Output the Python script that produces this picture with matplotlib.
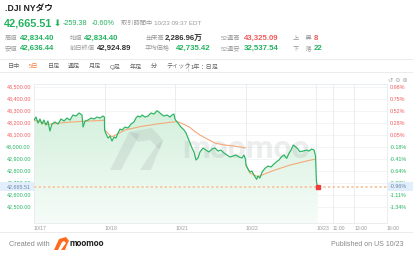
import matplotlib
matplotlib.use("Agg")
import matplotlib.pyplot as plt
import numpy as np
from matplotlib.colors import LinearSegmentedColormap
from matplotlib.patches import Polygon, Rectangle
from matplotlib.lines import Line2D

plt.rcParams['font.family'] = ['Liberation Sans', 'Noto Sans CJK JP', 'DejaVu Sans']

W, H = 414, 256
GREEN = '#22b35e'
RED = '#f05a5a'
GRAY = '#9a9a9a'
DARK = '#333333'

# ---- data (minutes since 10/17 09:30, 390 per session) ----
x_ticks = [0, 390, 780, 1170, 1560, 1650, 1770, 1950]
x_labels = ["10/17", "10/18", "10/21", "10/22", "10/23", "11:00", "13:00", "16:00"]

y_ticks = [42500, 42600, 42700, 42800, 42900, 43000, 43100, 43200, 43300, 43400, 43500]
y_left = ["42,500.00", "42,600.00", "42,700.00", "42,800.00", "42,900.00", "43,000.00",
          "43,100.00", "43,200.00", "43,300.00", "43,400.00", "43,500.00"]
y_right = ["-1.34%", "-1.11%", "-0.88%", "-0.64%", "-0.41%", "-0.18%",
           "0.05%", "0.28%", "0.52%", "0.75%", "0.98%"]
base = 43079

t = [0, 11, 22, 33, 44, 55, 66, 77, 88, 99, 116, 133, 149, 166, 182, 199, 215, 232, 249, 265,
     271, 282, 298, 315, 331, 348, 365, 381, 389,
     390, 398, 409, 420, 431, 442, 453, 464, 475, 486, 503, 519, 536, 552, 563, 574, 586, 597,
     613, 630, 646, 663, 679, 690, 702, 718, 735, 751, 762, 773, 779,
     782, 795, 812, 829, 840, 851, 862, 873, 884, 895, 906, 917, 934, 950, 967, 983, 1000,
     1016, 1033, 1050, 1066, 1083, 1099, 1116, 1133, 1149, 1160, 1168,
     1171, 1182, 1193, 1204, 1215, 1230, 1237, 1248, 1260, 1276, 1293, 1309, 1320, 1337, 1353,
     1368, 1381, 1396, 1409, 1420, 1432, 1447, 1458, 1469, 1486, 1506, 1519, 1534, 1547, 1555,
     1560, 1563, 1567]
price = [43222, 43247, 43197, 43231, 43189, 43222, 43181, 43214, 43131, 43189, 43206, 43189,
         43231, 43214, 43239, 43222, 43264, 43256, 43281, 43264, 43164, 43214, 43222, 43239,
         43231, 43247, 43239, 43256, 43247,
         43139, 43106, 43072, 43089, 43047, 43081, 43072, 43114, 43147, 43139, 43164, 43156,
         43189, 43206, 43239, 43256, 43247, 43264, 43247, 43256, 43281, 43272, 43300, 43289,
         43272, 43256, 43264, 43247, 43264, 43272, 43231,
         43222, 43197, 43164, 43139, 43114, 43072, 43031, 42989, 42956, 42889, 42906, 42956,
         42989, 42972, 42956, 42981, 42989, 42964, 42972, 42947, 42931, 42914, 42922, 42931,
         42914, 42906, 42931, 42897,
         42847, 42814, 42789, 42797, 42764, 42728, 42756, 42739, 42789, 42820, 42839, 42831,
         42847, 42872, 42889, 42917, 42931, 42903, 42947, 42972, 43014, 42997, 42981, 42958,
         42964, 42972, 42964, 42981, 42972, 42925,
         42714, 42689, 42665.51]
last = 42665.51

ma_t = [[0, 30, 70, 130, 200, 280, 389],
        [390, 420, 431, 503, 586, 668, 751, 779],
        [782, 830, 862, 890, 917, 950, 1000, 1050, 1110, 1168],
        [1171, 1193, 1237, 1320, 1414, 1506, 1555]]
ma_v = [[43222, 43210, 43185, 43195, 43205, 43212, 43220],
        [43139, 43095, 43083, 43139, 43167, 43187, 43203, 43206],
        [43215, 43185, 43160, 43125, 43097, 43070, 43030, 43015, 43005, 42990],
        [42847, 42780, 42750, 42800, 42847, 42881, 42897]]

row1 = [("高値", "42,834.40", GREEN), ("始値", "42,834.40", GREEN), ("出来高", "2,286.96万", DARK),
        ("52週高", "43,325.09", RED), ("上　昇", "8", RED)]
row2 = [("安値", "42,636.44", GREEN), ("前日終値", "42,924.89", DARK), ("平均価格", "42,735.42", GREEN),
        ("52週安", "32,537.54", GREEN), ("下　落", "22", GREEN)]
tabs = ["日中", "5日", "日足", "週足", "月足", "Q足", "年足", "分", "ティック"]
tab_x = [8, 29, 48, 68, 89, 110, 130, 151, 166]


def P(x, y):
    return x / W, 1 - y / H


def D(x, y):
    # chart pixel -> data coords
    return (x - 34) / 353 * 1950, 43500 - (y - 86.7) / 0.12


fig = plt.figure(figsize=(W / 100, H / 100), dpi=100)
fig.patch.set_facecolor('white')

# ---- header ----
fig.text(*P(5, 9), ".DJI NYダウ", fontsize=6.2, fontweight='bold', color='#222222', va='center')
fig.text(*P(4, 23.5), "42,665.51", fontsize=7.8, fontweight='bold', color=GREEN, va='center')
fig.text(*P(53.5, 23.5), "⬇", fontsize=6.2, color=GREEN, va='center', family='DejaVu Sans')
fig.text(*P(63, 23.5), "-259.38", fontsize=5.2, color=GREEN, va='center')
fig.text(*P(92, 23.5), "-0.60%", fontsize=5.2, color=GREEN, va='center')
fig.text(*P(121, 23.5), "取引時間中 10/23 09:37 EDT", fontsize=4.5, color=GRAY, va='center')

lab_x = [5, 70, 145, 221, 293]
val_x1 = [20, 84, 165, 244, 314]
val_x2 = [20, 97, 176, 244, 314]
for row, yy, vx in [(row1, 38.3, val_x1), (row2, 48.3, val_x2)]:
    for (lab, val, col), lx, x in zip(row, lab_x, vx):
        fig.text(*P(lx, yy), lab, fontsize=4.5, color=GRAY, va='center')
        fig.text(*P(x, yy), val, fontsize=5.6, color=col, va='center', fontweight='bold')

fig.add_artist(Line2D([0, 1], [1 - 59.3 / H] * 2, color='#ececec', lw=0.7))
fig.add_artist(Line2D([0, 1], [1 - 72.3 / H] * 2, color='#ececec', lw=0.7))
for name, x in zip(tabs, tab_x):
    fig.text(*P(x, 66.7), name, fontsize=4.4, va='center',
             color='#f47c3c' if name == "5日" else '#666666')
fig.add_artist(Line2D([188 / W] * 2, [1 - 62 / H, 1 - 71 / H], color='#dddddd', lw=0.6))
fig.text(*P(191, 66.7), "1年：日足", fontsize=4.4, color='#666666', va='center')
fig.text(*P(408, 80), "↺ ⊖ ⊕", fontsize=4.5, color='#aaaaaa', va='center', ha='right',
         family='DejaVu Sans')

# ---- chart ----
ylo = 42500 - (223 - 206.7) / 0.12
yhi = 43500 + (86.7 - 84) / 0.12
ax = fig.add_axes([34 / W, 1 - 223 / H, (387 - 34) / W, (223 - 84) / H])
ax.set_facecolor('none')

grad = np.linspace(0, 1, 256).reshape(-1, 1)
cmap = LinearSegmentedColormap.from_list('g', ['#f6fcf8', '#d3f0dc'])
im = ax.imshow(grad, extent=[0, t[-1], ylo, max(price)], origin='lower', cmap=cmap,
               aspect='auto', zorder=1)
poly = Polygon(np.column_stack([[t[0]] + t + [t[-1]], [ylo] + price + [ylo]]),
               closed=True, facecolor='none', edgecolor='none', transform=ax.transData)
ax.add_patch(poly)
im.set_clip_path(poly)

# watermark
ax.text(*D(246, 149), "moomoo", fontsize=23, fontweight='bold',
        family='Roboto', color='#8a8f94', alpha=0.16, ha='center', va='center', zorder=2)
wm = [[(110, 170), (121, 170), (140, 134), (129, 132)],
      [(129, 132), (152, 128), (163, 140), (160, 150), (150, 140), (138, 142)],
      [(140, 170), (151, 170), (163, 140), (156, 146)]]
for pts in wm:
    ax.add_patch(Polygon([D(x, y) for x, y in pts], closed=True, facecolor='#8a8f94',
                         alpha=0.16, edgecolor='none', zorder=2))

ax.plot(t, price, color='#2bb462', lw=0.85, zorder=4)
for mt, mv in zip(ma_t, ma_v):
    ax.plot(mt, mv, color='#f5a978', lw=0.8, zorder=3)
ax.axhline(last, color='#f7caa6', lw=1.4, ls=(0, (1.2, 1.2)), zorder=3)
ax.plot([t[-1]], [last], marker='s', ms=2.2, color='#f03c3c', zorder=5)

ax.set_xlim(0, 1950)
ax.set_ylim(ylo, yhi)
for yv in y_ticks:
    ax.axhline(yv, color='#f0f2f5', lw=0.6, zorder=0)
for xv in x_ticks[1:-1]:
    ax.axvline(xv, color='#e8ebef', lw=0.6, zorder=0)
for s in ax.spines.values():
    s.set_color('#e8ebef')
    s.set_linewidth(0.6)

ax.set_xticks(x_ticks, x_labels)
for lab in ax.get_xticklabels():
    lab.set_ha('left')
ax.tick_params(axis='x', length=0, pad=2, labelsize=3.7, labelcolor='#999999')
ax.set_yticks(y_ticks, y_left)
ax.tick_params(axis='y', length=0, pad=2.2, labelsize=3.9)
for lab, v in zip(ax.get_yticklabels(), y_ticks):
    lab.set_color(RED if v > base else GREEN)

ax2 = ax.twinx()
ax2.set_ylim(ylo, yhi)
ax2.set_yticks(y_ticks, y_right)
ax2.tick_params(axis='y', length=0, pad=2.2, labelsize=3.9)
for lab, v in zip(ax2.get_yticklabels(), y_ticks):
    lab.set_color(RED if v > base else GREEN)
for s in ax2.spines.values():
    s.set_visible(False)

yl = 186.7
fig.add_artist(Rectangle((0, 1 - (yl + 4.5) / H), 34 / W, 9 / H, facecolor='#e2eefc',
                         edgecolor='none', zorder=5))
fig.add_artist(Rectangle((387 / W, 1 - (yl + 4.5) / H), 27 / W, 9 / H, facecolor='#e2eefc',
                         edgecolor='none', zorder=5))
fig.text(*P(31, yl), "42,665.51", fontsize=3.9, color='#6a86ad', ha='right', va='center', zorder=6)
fig.text(*P(390, yl), "-0.96%", fontsize=3.9, color='#6a86ad', ha='left', va='center', zorder=6)

# ---- footer ----
fig.add_artist(Line2D([0, 1], [1 - 232.3 / H] * 2, color='#ececec', lw=0.7))
fig.text(*P(9, 244), "Created with", fontsize=5.2, color='#888888', va='center')
logo = [[(54, 250), (58, 250), (63, 240), (59, 239)],
        [(59, 239), (66, 237), (69, 241), (67, 244), (64, 241), (62, 242)],
        [(61, 250), (65, 250), (68, 242), (66, 243)]]
for pts in logo:
    fig.add_artist(Polygon([P(x, y) for x, y in pts], closed=True, facecolor='#ff6b1a',
                           edgecolor='none'))
fig.text(*P(70, 244), "moomoo", fontsize=6.3, fontweight='bold', family='Roboto',
         color='#222222', va='center')
fig.text(*P(404, 244), "Published on US 10/23", fontsize=5.0, color='#888888', va='center',
         ha='right')

fig.savefig("out.png", dpi=100)
